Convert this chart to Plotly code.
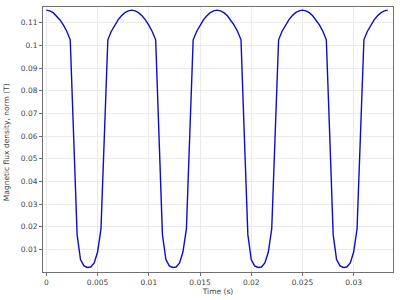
import plotly.graph_objects as go

time_s = [
    0.00000, 0.00033, 0.00067, 0.00100, 0.00133, 0.00167, 0.00200, 0.00233, 0.00267, 0.00300,
    0.00333, 0.00367, 0.00400, 0.00433, 0.00467, 0.00500, 0.00533, 0.00567, 0.00600, 0.00633,
    0.00667, 0.00700, 0.00733, 0.00767, 0.00800, 0.00833, 0.00867, 0.00900, 0.00933, 0.00967,
    0.01000, 0.01033, 0.01067, 0.01100, 0.01133, 0.01167, 0.01200, 0.01233, 0.01267, 0.01300,
    0.01333, 0.01367, 0.01400, 0.01433, 0.01467, 0.01500, 0.01533, 0.01567, 0.01600, 0.01633,
    0.01667, 0.01700, 0.01733, 0.01767, 0.01800, 0.01833, 0.01867, 0.01900, 0.01933, 0.01967,
    0.02000, 0.02033, 0.02067, 0.02100, 0.02133, 0.02167, 0.02200, 0.02233, 0.02267, 0.02300,
    0.02333, 0.02367, 0.02400, 0.02433, 0.02467, 0.02500, 0.02533, 0.02567, 0.02600, 0.02633,
    0.02667, 0.02700, 0.02733, 0.02767, 0.02800, 0.02833, 0.02867, 0.02900, 0.02933, 0.02967,
    0.03000, 0.03033, 0.03067, 0.03100, 0.03133, 0.03167, 0.03200, 0.03233, 0.03267, 0.03300,
    0.03333,
]

b_norm = [
    0.1156, 0.1153, 0.1145, 0.1131, 0.1113, 0.1090, 0.1062, 0.1025, 0.0595, 0.0165,
    0.0055, 0.0027, 0.0020, 0.0022, 0.0040, 0.0088, 0.0190, 0.0610, 0.1025, 0.1062,
    0.1090, 0.1113, 0.1131, 0.1145, 0.1153, 0.1156, 0.1153, 0.1145, 0.1131, 0.1113,
    0.1090, 0.1062, 0.1025, 0.0595, 0.0165, 0.0055, 0.0027, 0.0020, 0.0022, 0.0040,
    0.0088, 0.0190, 0.0610, 0.1025, 0.1062, 0.1090, 0.1113, 0.1131, 0.1145, 0.1153,
    0.1156, 0.1153, 0.1145, 0.1131, 0.1113, 0.1090, 0.1062, 0.1025, 0.0595, 0.0165,
    0.0055, 0.0027, 0.0020, 0.0022, 0.0040, 0.0088, 0.0190, 0.0610, 0.1025, 0.1062,
    0.1090, 0.1113, 0.1131, 0.1145, 0.1153, 0.1156, 0.1153, 0.1145, 0.1131, 0.1113,
    0.1090, 0.1062, 0.1025, 0.0595, 0.0165, 0.0055, 0.0027, 0.0020, 0.0022, 0.0040,
    0.0088, 0.0190, 0.0610, 0.1025, 0.1062, 0.1090, 0.1113, 0.1131, 0.1145, 0.1153,
    0.1156,
]

x_ticks = [0, 0.005, 0.01, 0.015, 0.02, 0.025, 0.03]
x_tick_labels = ["0", "0.005", "0.01", "0.015", "0.02", "0.025", "0.03"]
y_ticks = [0.01, 0.02, 0.03, 0.04, 0.05, 0.06, 0.07, 0.08, 0.09, 0.1, 0.11]
y_tick_labels = ["0.01", "0.02", "0.03", "0.04", "0.05", "0.06", "0.07", "0.08", "0.09", "0.1", "0.11"]

text_font = dict(family="DejaVu Sans", size=7.5, color="#444444")

fig = go.Figure()
fig.add_trace(go.Scatter(
    x=time_s, y=b_norm, mode="lines",
    line=dict(color="#0c0cd0", width=1.4),
    showlegend=False,
))

axis_common = dict(
    showline=True, linecolor="#707070", linewidth=1, mirror=True,
    showgrid=True, gridcolor="#ebebeb", gridwidth=1,
    zeroline=False, ticks="outside", ticklen=3, tickcolor="#707070",
    tickfont=text_font,
)

fig.update_xaxes(
    range=[-0.00033, 0.03384],
    tickvals=x_ticks, ticktext=x_tick_labels,
    title=dict(text="Time (s)", font=text_font, standoff=2),
    **axis_common,
)
fig.update_yaxes(
    range=[0, 0.117],
    tickvals=y_ticks, ticktext=y_tick_labels,
    **axis_common,
)

fig.add_annotation(
    text="Magnetic flux density, norm (T)",
    xref="paper", yref="paper", x=0, y=0.49,
    xanchor="center", yanchor="middle", xshift=-37,
    textangle=-90, showarrow=False, font=text_font,
)

fig.update_layout(
    width=400, height=300,
    margin=dict(l=43, r=7, t=6, b=24),
    paper_bgcolor="white", plot_bgcolor="white",
)

fig.write_html("out.html")
